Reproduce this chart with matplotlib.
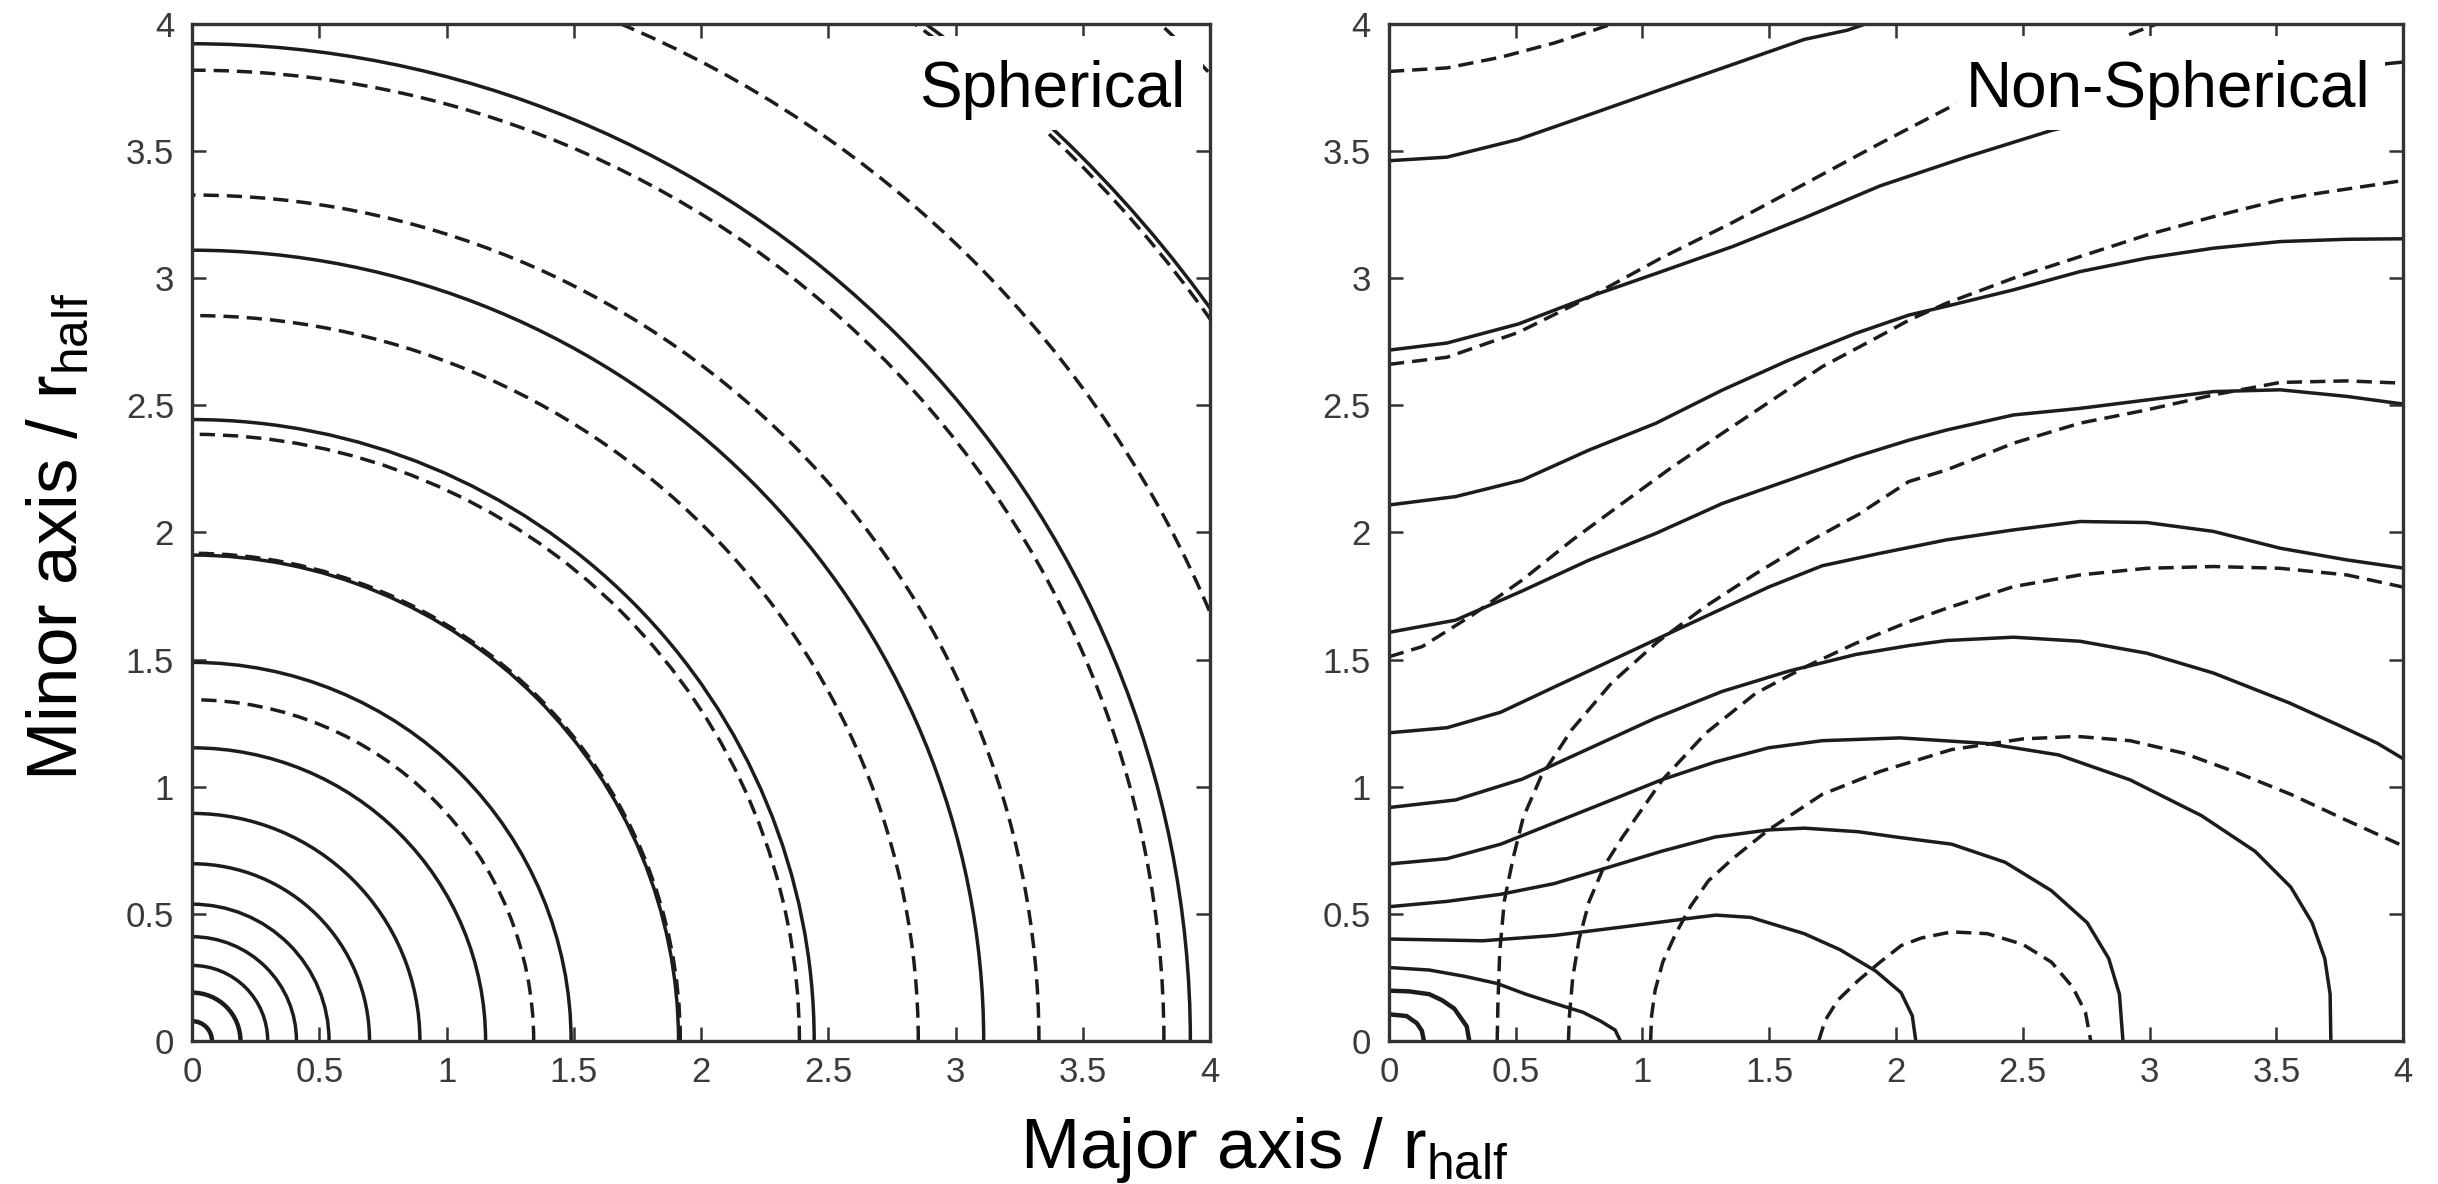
import matplotlib
matplotlib.use('Agg')
import matplotlib.pyplot as plt
from matplotlib.patches import Arc, Rectangle

plt.rcParams['font.family'] = ['Liberation Sans', 'DejaVu Sans']
plt.rcParams['mathtext.fontset'] = 'custom'
plt.rcParams['mathtext.rm'] = 'Liberation Sans'
plt.rcParams['mathtext.it'] = 'Liberation Sans:italic'

# ---- data -------------------------------------------------------------
tick_vals = [0, 0.5, 1, 1.5, 2, 2.5, 3, 3.5, 4]
tick_text = ['0', '0.5', '1', '1.5', '2', '2.5', '3', '3.5', '4']

# spherical model: contours are quarter circles, radii in r_half
sph_solid_r = [0.078, 0.19, 0.297, 0.41, 0.538, 0.697, 0.895, 1.153, 1.489,
               1.911, 2.444, 3.11, 3.922, 4.93]
sph_dashed_r = [1.342, 1.918, 2.386, 2.853, 3.327, 3.818, 4.34, 4.905, 5.52]

# non-spherical model: solid contours (major, minor)
s1_x = [0, 0.07, 0.11, 0.13, 0.138]
s1_y = [0.105, 0.098, 0.07, 0.04, 0]
s2_x = [0, 0.08, 0.159, 0.21, 0.258, 0.307, 0.317]
s2_y = [0.198, 0.195, 0.184, 0.16, 0.127, 0.057, 0]
s3_x = [0, 0.159, 0.30, 0.427, 0.54, 0.652, 0.765, 0.835, 0.892, 0.913]
s3_y = [0.289, 0.279, 0.254, 0.226, 0.184, 0.148, 0.113, 0.078, 0.043, 0]
s4_x = [0, 0.37, 0.652, 0.934, 1.215, 1.29, 1.427, 1.638, 1.779, 1.92, 2.02,
        2.064, 2.078]
s4_y = [0.401, 0.394, 0.415, 0.45, 0.486, 0.495, 0.486, 0.422, 0.359, 0.275,
        0.19, 0.099, 0]
s5_x = [0, 0.229, 0.441, 0.652, 0.863, 1.075, 1.286, 1.497, 1.638, 1.85,
        2.016, 2.219, 2.43, 2.613, 2.754, 2.839, 2.881, 2.895]
s5_y = [0.528, 0.549, 0.577, 0.619, 0.682, 0.746, 0.802, 0.83, 0.837, 0.823,
        0.8, 0.774, 0.703, 0.591, 0.465, 0.324, 0.184, 0]
s6_x = [0, 0.229, 0.441, 0.652, 0.863, 1.075, 1.286, 1.497, 1.709, 2.016,
        2.36, 2.641, 2.923, 3.205, 3.416, 3.557, 3.641, 3.691, 3.712, 3.715]
s6_y = [0.696, 0.717, 0.774, 0.858, 0.942, 1.027, 1.097, 1.153, 1.181, 1.192,
        1.17, 1.125, 1.027, 0.886, 0.746, 0.605, 0.465, 0.324, 0.184, 0]
s7_x = [0, 0.263, 0.526, 0.789, 1.052, 1.315, 1.578, 1.841, 2.051, 2.2,
        2.463, 2.726, 2.989, 3.252, 3.55, 3.75, 3.9, 4.0]
s7_y = [0.918, 0.948, 1.03, 1.15, 1.27, 1.375, 1.455, 1.52, 1.555, 1.575,
        1.588, 1.572, 1.525, 1.447, 1.33, 1.24, 1.17, 1.11]
s8_x = [0, 0.229, 0.441, 0.652, 0.863, 1.075, 1.286, 1.497, 1.709, 1.937,
        2.2, 2.463, 2.726, 2.989, 3.252, 3.515, 3.778, 4.0]
s8_y = [1.212, 1.232, 1.293, 1.392, 1.49, 1.589, 1.687, 1.785, 1.869, 1.918,
        1.971, 2.01, 2.043, 2.039, 2.004, 1.938, 1.892, 1.86]
s9_x = [0, 0.263, 0.526, 0.789, 1.052, 1.315, 1.578, 1.841, 2.051, 2.2,
        2.463, 2.726, 2.989, 3.252, 3.515, 3.778, 4.0]
s9_y = [1.607, 1.655, 1.77, 1.891, 1.996, 2.114, 2.206, 2.298, 2.363, 2.403,
        2.462, 2.488, 2.521, 2.554, 2.561, 2.535, 2.505]
s10_x = [0, 0.263, 0.526, 0.789, 1.052, 1.315, 1.578, 1.841, 2.051, 2.2,
         2.463, 2.726, 2.989, 3.252, 3.515, 3.778, 4.0]
s10_y = [2.108, 2.141, 2.206, 2.324, 2.429, 2.56, 2.678, 2.783, 2.855, 2.89,
         2.954, 3.026, 3.079, 3.118, 3.144, 3.153, 3.155]
s11_x = [0, 0.229, 0.511, 0.793, 1.075, 1.357, 1.638, 1.937, 2.275, 2.613,
         3.2, 3.6, 3.9, 4.0]
s11_y = [2.717, 2.745, 2.82, 2.928, 3.026, 3.125, 3.237, 3.363, 3.476, 3.581,
         3.72, 3.8, 3.84, 3.85]
s12_x = [0, 0.229, 0.511, 0.793, 1.075, 1.357, 1.638, 1.807, 1.88]
s12_y = [3.462, 3.476, 3.546, 3.644, 3.743, 3.841, 3.939, 3.975, 4.0]

# non-spherical model: dashed contours
d1_x = [0, 0.229, 0.441, 0.652, 0.807, 0.88]
d1_y = [3.813, 3.827, 3.869, 3.925, 3.975, 4.0]
d2_x = [0, 0.229, 0.511, 0.8, 1.075, 1.357, 1.638, 1.937, 2.24, 2.6, 2.95, 3.03]
d2_y = [2.661, 2.689, 2.787, 2.93, 3.08, 3.22, 3.37, 3.53, 3.687, 3.83, 3.97, 4.0]
d3_x = [0, 0.131, 0.329, 0.526, 0.723, 0.92, 1.118, 1.315, 1.512, 1.709,
        1.907, 2.051, 2.2, 2.463, 2.726, 2.989, 3.252, 3.515, 3.627, 4.0]
d3_y = [1.511, 1.551, 1.675, 1.813, 1.97, 2.114, 2.258, 2.39, 2.521, 2.652,
        2.757, 2.835, 2.902, 3.0, 3.085, 3.17, 3.242, 3.308, 3.328, 3.384]
d4_x = [0.427, 0.43, 0.437, 0.455, 0.49, 0.53, 0.6, 0.72, 0.88, 1.06, 1.25,
        1.45, 1.65, 1.85, 2.05, 2.2, 2.463, 2.726, 2.989, 3.252, 3.515, 3.778,
        4.0]
d4_y = [0, 0.15, 0.35, 0.55, 0.72, 0.88, 1.04, 1.223, 1.41, 1.57, 1.71, 1.84,
        1.96, 2.07, 2.2, 2.246, 2.351, 2.43, 2.482, 2.541, 2.59, 2.596, 2.587]
d5_x = [0.708, 0.712, 0.725, 0.75, 0.79, 0.85, 0.92, 0.99, 1.078, 1.249,
        1.446, 1.644, 1.841, 2.051, 2.2, 2.463, 2.726, 2.989, 3.252, 3.515,
        3.778, 4.0]
d5_y = [0, 0.1, 0.25, 0.4, 0.55, 0.69, 0.8, 0.9, 1.026, 1.21, 1.367, 1.472,
        1.564, 1.649, 1.702, 1.787, 1.833, 1.859, 1.866, 1.859, 1.833, 1.785]
d6_x = [1.032, 1.036, 1.05, 1.08, 1.13, 1.19, 1.26, 1.357, 1.497, 1.709,
        1.937, 2.219, 2.5, 2.712, 2.923, 3.134, 3.346, 3.557, 3.768, 4.0]
d6_y = [0, 0.1, 0.2, 0.31, 0.42, 0.53, 0.63, 0.718, 0.83, 0.97, 1.06, 1.146,
        1.188, 1.198, 1.181, 1.132, 1.055, 0.97, 0.872, 0.767]
d7_x = [1.695, 1.72, 1.77, 1.85, 1.937, 2.02, 2.1, 2.219, 2.36, 2.5, 2.613,
        2.697, 2.747, 2.768]
d7_y = [0, 0.08, 0.16, 0.237, 0.31, 0.375, 0.405, 0.429, 0.422, 0.38, 0.31,
        0.211, 0.113, 0]

ns_solid = [(s1_x, s1_y), (s2_x, s2_y), (s3_x, s3_y), (s4_x, s4_y),
            (s5_x, s5_y), (s6_x, s6_y), (s7_x, s7_y), (s8_x, s8_y),
            (s9_x, s9_y), (s10_x, s10_y), (s11_x, s11_y), (s12_x, s12_y)]
ns_dashed = [(d1_x, d1_y), (d2_x, d2_y), (d3_x, d3_y), (d4_x, d4_y),
             (d5_x, d5_y), (d6_x, d6_y), (d7_x, d7_y)]

# ---- style ------------------------------------------------------------
line_col = '#1c1c1c'
lw = 2.5
dash = (0, (4.4, 2.3))

fig = plt.figure(figsize=(24.38, 11.84), dpi=100)
ax1 = fig.add_axes([0.0788, 0.1208, 0.4176, 0.859])
ax2 = fig.add_axes([0.5697, 0.1208, 0.4160, 0.859])


def style_axes(ax):
    ax.set_xlim(0, 4)
    ax.set_ylim(0, 4)
    ax.set_xticks(tick_vals)
    ax.set_xticklabels(tick_text)
    ax.set_yticks(tick_vals)
    ax.set_yticklabels(tick_text)
    ax.tick_params(direction='in', length=10, width=1.8, top=True, right=True,
                   labelsize=25, color='#333333', labelcolor='#3a3a3a')
    ax.tick_params(axis='x', pad=11)
    ax.tick_params(axis='y', pad=13)
    for sp in ax.spines.values():
        sp.set_linewidth(2.4)
        sp.set_color('#333333')


def label_box(ax, x0, x1, text, tx):
    ax.add_patch(Rectangle((x0, 0.896), x1 - x0, 0.092, transform=ax.transAxes,
                           facecolor='white', edgecolor='none', zorder=3))
    ax.text(tx, 0.918, text, transform=ax.transAxes, ha='right',
            va='baseline', fontsize=46, color='black', zorder=4)


# left panel: spherical
for r in sph_solid_r:
    w = 3.2 if r < 0.2 else lw
    ax1.add_patch(Arc((0, 0), 2 * r, 2 * r, theta1=0, theta2=90,
                      color=line_col, lw=w, zorder=2))
for r in sph_dashed_r:
    ax1.add_patch(Arc((0, 0), 2 * r, 2 * r, theta1=0, theta2=90,
                      color=line_col, lw=lw, linestyle=dash, zorder=2))
style_axes(ax1)
label_box(ax1, 0.710, 0.993, 'Spherical', 0.976)

# right panel: non-spherical
for i, (xs, ys) in enumerate(ns_solid):
    w = 3.2 if i < 2 else lw
    ax2.plot(xs, ys, color=line_col, lw=w, solid_joinstyle='round')
for xs, ys in ns_dashed:
    ax2.plot(xs, ys, color=line_col, lw=lw, linestyle=dash,
             dash_joinstyle='round')
style_axes(ax2)
label_box(ax2, 0.559, 0.982, 'Non-Spherical', 0.968)

fig.text(0.5187, 0.0135, r'Major axis / $\mathregular{r_{half}}$',
         ha='center', va='baseline', fontsize=51)
fig.text(0.024, 0.547, r'Minor axis / $\mathregular{r_{half}}$',
         ha='center', va='center', rotation=90, fontsize=51)

fig.savefig('out.png', dpi=100)
